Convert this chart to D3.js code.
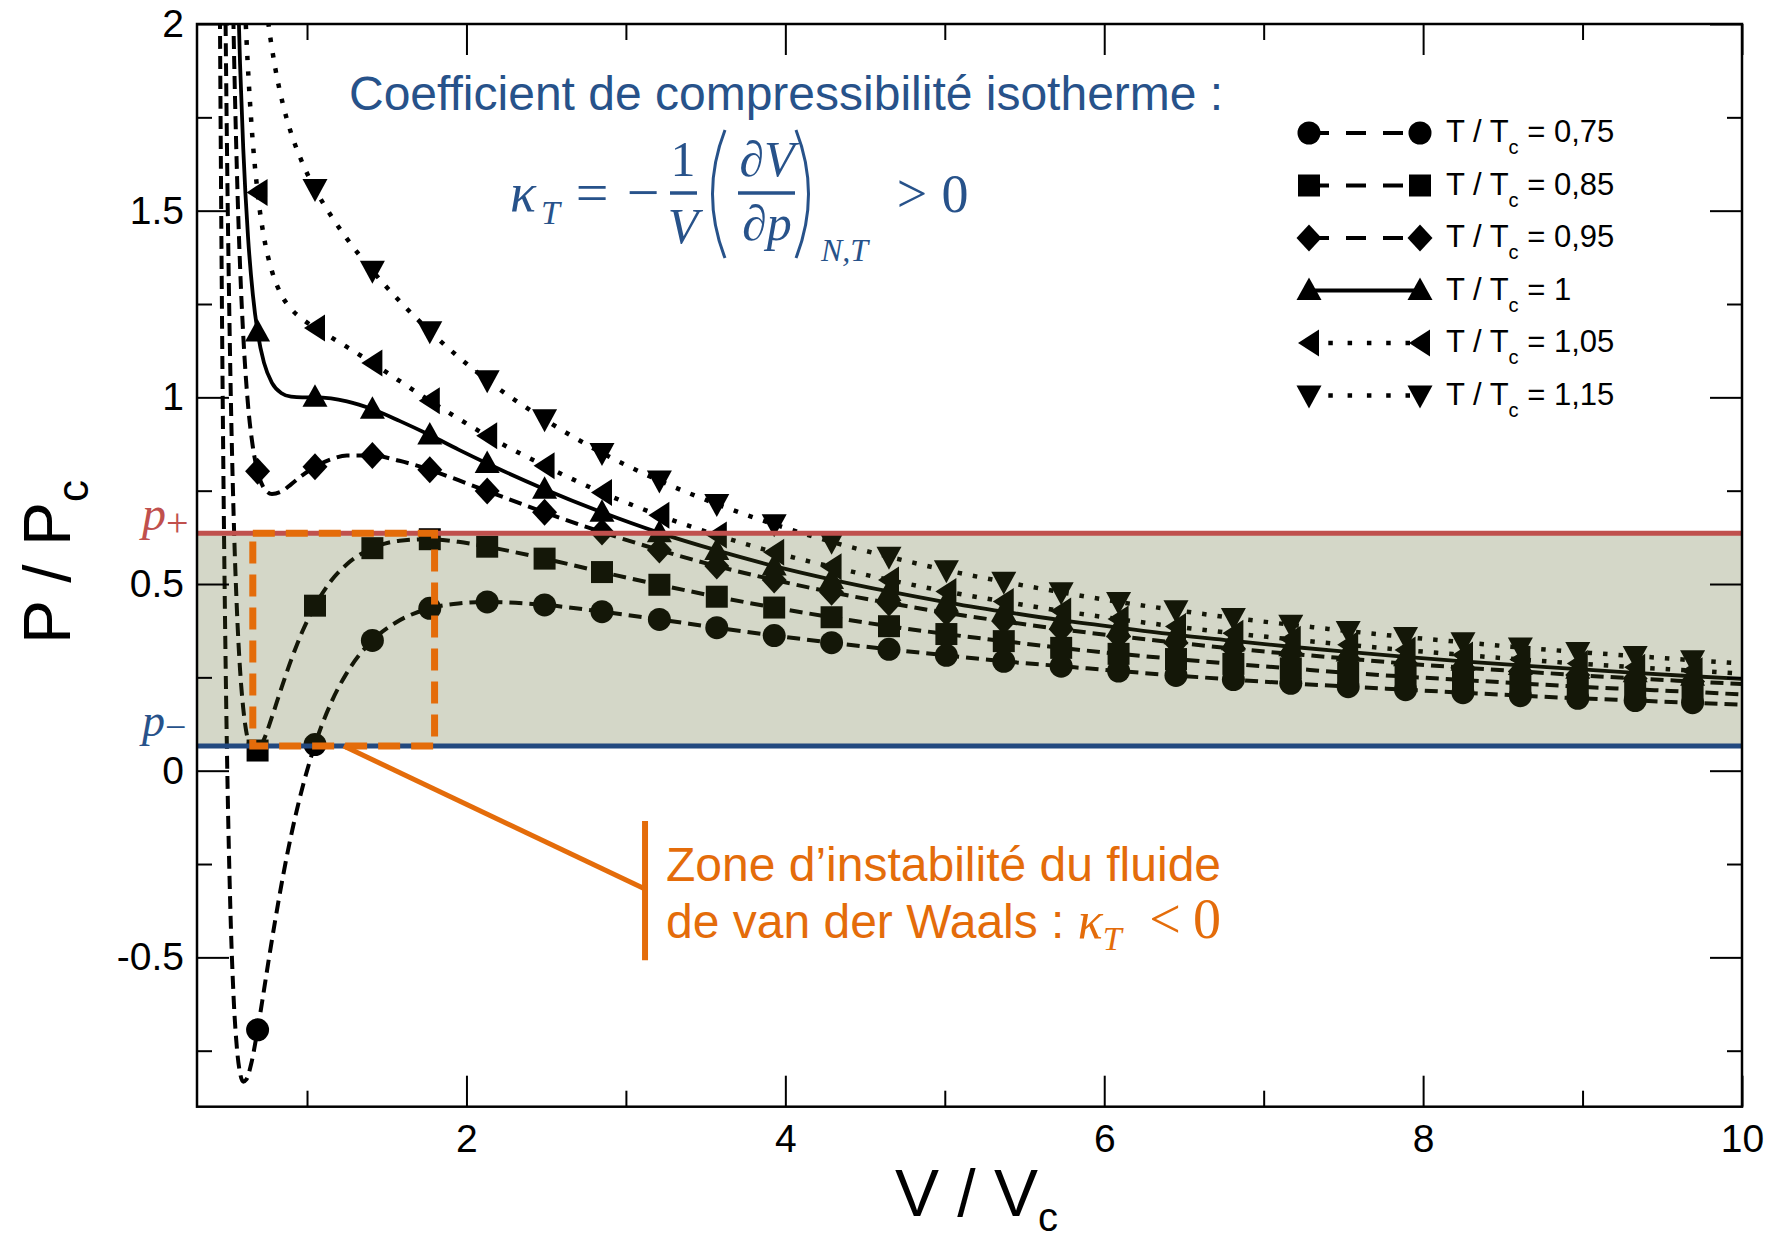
<!DOCTYPE html>
<html><head><meta charset="utf-8">
<script src="https://cdn.jsdelivr.net/npm/d3@7"></script>
<style>body{margin:0;background:#fff} svg{display:block}</style>
</head><body>
<svg id="chart" width="1776" height="1247"></svg>
<script>
// ---------------- DATA ----------------
const xDomain = [0.31, 10];
const yDomain = [-0.9, 2];
const xMajor = [2, 4, 6, 8, 10];
const xTickLabels = ["2", "4", "6", "8", "10"];
const xMinor = [1, 3, 5, 7, 9];
const yMajor = [-0.5, 0, 0.5, 1, 1.5, 2];
const yTickLabels = ["-0.5", "0", "0.5", "1", "1.5", "2"];
const yMinor = [-0.75, -0.25, 0.25, 0.75, 1.25, 1.75];

const seriesLabels = ["0,75", "0,85", "0,95", "1", "1,05", "1,15"];

// V/Vc positions of markers (shared by all isotherms)
const markerV = [0.69, 1.05, 1.41, 1.77, 2.13, 2.49, 2.85, 3.21, 3.57, 3.93, 4.29, 4.65, 5.01,
                 5.37, 5.73, 6.09, 6.45, 6.81, 7.17, 7.53, 7.89, 8.25, 8.61, 8.97, 9.33, 9.69];
// P/Pc at markers
const P_075 = [-0.694, 0.070, 0.349, 0.435, 0.452, 0.444, 0.426, 0.405, 0.383, 0.362, 0.343, 0.325, 0.309, 0.293, 0.280, 0.267, 0.255, 0.244, 0.234, 0.225, 0.217, 0.209, 0.201, 0.194, 0.188, 0.182];
const P_085 = [0.054, 0.442, 0.596, 0.620, 0.600, 0.568, 0.532, 0.498, 0.466, 0.437, 0.411, 0.387, 0.366, 0.347, 0.329, 0.313, 0.299, 0.286, 0.274, 0.262, 0.252, 0.243, 0.234, 0.225, 0.218, 0.211];
const P_095 = [0.802, 0.814, 0.844, 0.806, 0.749, 0.692, 0.639, 0.591, 0.548, 0.511, 0.478, 0.449, 0.423, 0.400, 0.379, 0.360, 0.343, 0.327, 0.313, 0.300, 0.287, 0.276, 0.266, 0.256, 0.247, 0.239];
const P_100 = [1.175, 1.000, 0.968, 0.899, 0.823, 0.754, 0.692, 0.637, 0.590, 0.548, 0.512, 0.480, 0.451, 0.426, 0.403, 0.383, 0.364, 0.348, 0.332, 0.318, 0.305, 0.293, 0.282, 0.272, 0.262, 0.253];
const P_105 = [1.549, 1.186, 1.092, 0.991, 0.897, 0.817, 0.745, 0.684, 0.631, 0.585, 0.546, 0.511, 0.480, 0.453, 0.428, 0.406, 0.386, 0.368, 0.352, 0.337, 0.323, 0.310, 0.298, 0.287, 0.277, 0.268];
const P_115 = [2.297, 1.558, 1.339, 1.177, 1.046, 0.941, 0.851, 0.777, 0.714, 0.660, 0.613, 0.573, 0.537, 0.506, 0.478, 0.452, 0.430, 0.409, 0.391, 0.374, 0.358, 0.344, 0.330, 0.318, 0.307, 0.296];

// extra line points (between / outside markers)
const lineV_075 = [0.44, 0.45, 0.46, 0.47, 0.48, 0.49, 0.50, 0.52, 0.54, 0.56, 0.58, 0.60, 0.62, 0.65, 0.72, 0.76, 0.80, 0.85, 0.90, 0.95, 1.15, 1.25, 1.55, 1.95, 10];
const lineP_075 = [3.254, 2.328, 1.611, 1.053, 0.615, 0.271, 0.000, -0.381, -0.611, -0.742, -0.810, -0.833, -0.827, -0.785, -0.615, -0.506, -0.402, -0.281, -0.174, -0.081, 0.181, 0.262, 0.395, 0.448, 0.177];
const lineV_085 = [0.46, 0.48, 0.49, 0.50, 0.52, 0.54, 0.56, 0.58, 0.60, 0.63, 0.66, 0.73, 0.78, 0.84, 0.90, 0.97, 1.15, 1.25, 1.58, 1.95, 10];
const lineP_085 = [3.717, 2.434, 1.973, 1.600, 1.048, 0.680, 0.434, 0.271, 0.167, 0.081, 0.052, 0.084, 0.144, 0.222, 0.296, 0.372, 0.508, 0.553, 0.616, 0.613, 0.204];
const lineV_095 = [0.50, 0.52, 0.54, 0.56, 0.58, 0.60, 0.63, 0.66, 0.73, 0.78, 0.84, 0.90, 0.97, 1.15, 1.25, 1.58, 1.95, 10];
const lineP_095 = [3.200, 2.476, 1.970, 1.610, 1.352, 1.167, 0.980, 0.868, 0.757, 0.741, 0.748, 0.767, 0.791, 0.834, 0.844, 0.830, 0.778, 0.232];
const lineV_100 = [0.52, 0.54, 0.56, 0.58, 0.60, 0.63, 0.66, 0.73, 0.78, 0.84, 0.90, 0.97, 1.15, 1.25, 1.58, 1.95, 10];
const lineP_100 = [3.191, 2.615, 2.199, 1.893, 1.667, 1.430, 1.276, 1.093, 1.039, 1.011, 1.002, 1.000, 0.997, 0.989, 0.937, 0.860, 0.246];
const lineV_105 = [0.56, 0.58, 0.60, 0.62, 0.65, 0.73, 0.78, 0.84, 0.90, 0.97, 1.15, 1.25, 1.58, 1.95, 10];
const lineP_105 = [2.787, 2.433, 2.167, 1.963, 1.741, 1.429, 1.338, 1.274, 1.237, 1.210, 1.161, 1.135, 1.044, 0.943, 0.260];
const lineV_115 = [0.66, 0.70, 0.73, 0.76, 0.80, 0.85, 0.90, 0.97, 1.15, 1.25, 1.58, 1.95, 10];
const lineP_115 = [2.501, 2.242, 2.101, 1.994, 1.884, 1.783, 1.708, 1.629, 1.487, 1.425, 1.258, 1.108, 0.287];

// instability zone
const pPlus = 0.636;
const pMinus = 0.066;
const zoneV = [0.66, 1.80];

// ---------------- STYLE ----------------
const SANS = "'Liberation Sans', Arial, Helvetica, sans-serif";
const SERIF = "'Liberation Serif', 'DejaVu Serif', serif";
const BLUE = "#27528a";
const RED = "#c0504d";
const ORANGE = "#e46c0a";

const styles = [
  {dash: "13,7", width: 4, sym: "circle", legDash: "20,17"},
  {dash: "13,7", width: 4, sym: "square", legDash: "20,17"},
  {dash: "13,7", width: 4, sym: "diamond", legDash: "20,17"},
  {dash: null, width: 3.8, sym: "up", legDash: null},
  {dash: "4.5,11", width: 4.5, sym: "left", legDash: "4.5,14.8"},
  {dash: "4.5,11", width: 4.5, sym: "down", legDash: "4.5,14.8"}
];
const lineVs = [lineV_075, lineV_085, lineV_095, lineV_100, lineV_105, lineV_115];
const linePs = [lineP_075, lineP_085, lineP_095, lineP_100, lineP_105, lineP_115];
const markPs = [P_075, P_085, P_095, P_100, P_105, P_115];

function markerPath(sym) {
  switch (sym) {
    case "circle": return "M11.5,0A11.5,11.5 0 1,1 -11.5,0A11.5,11.5 0 1,1 11.5,0Z";
    case "square": return "M-11,-11H11V11H-11Z";
    case "diamond": return "M0,-13.5L12.5,0L0,13.5L-12.5,0Z";
    case "up": return "M0,-13L12.5,9.5L-12.5,9.5Z";
    case "left": return "M-11,0L10,-13.5L10,13.5Z";
    case "down": return "M-12.5,-10L12.5,-10L0,13Z";
  }
}

// ---------------- CHART ----------------
const svg = d3.select("#chart");
svg.append("rect").attr("width", 1776).attr("height", 1247).attr("fill", "#fff");

const L = 197, R = 1742, T = 24, B = 1106.7;
const x = d3.scaleLinear().domain(xDomain).range([L, R]);
const y = d3.scaleLinear().domain(yDomain).range([B, T]);

svg.append("defs").append("clipPath").attr("id", "plotclip")
  .append("rect").attr("x", L).attr("y", T).attr("width", R - L).attr("height", B - T);

const plot = svg.append("g").attr("clip-path", "url(#plotclip)");
const line = d3.line().x(d => x(d[0])).y(d => y(d[1])).curve(d3.curveMonotoneX);

styles.forEach((st, i) => {
  const pts = lineVs[i].map((v, j) => [v, linePs[i][j]])
    .concat(markerV.map((v, j) => [v, markPs[i][j]]))
    .sort((a, b) => a[0] - b[0]);
  const p = plot.append("path").attr("d", line(pts)).attr("fill", "none")
    .attr("stroke", "#000").attr("stroke-width", st.width);
  if (st.dash) p.attr("stroke-dasharray", st.dash);
});
styles.forEach((st, i) => {
  plot.selectAll(null)
    .data(markerV.map((v, j) => [v, markPs[i][j]]).filter(d => d[1] <= yDomain[1]))
    .enter().append("path")
    .attr("d", markerPath(st.sym))
    .attr("transform", d => `translate(${x(d[0])},${y(d[1])})`)
    .attr("fill", "#000");
});

// instability band (translucent overlay)
plot.append("rect")
  .attr("x", L).attr("width", R - L)
  .attr("y", y(pPlus)).attr("height", y(pMinus) - y(pPlus))
  .attr("fill", "rgb(81,93,32)").attr("fill-opacity", 0.247);
plot.append("line").attr("x1", L).attr("x2", R).attr("y1", y(pPlus)).attr("y2", y(pPlus))
  .attr("stroke", RED).attr("stroke-width", 5);
plot.append("line").attr("x1", L).attr("x2", R).attr("y1", y(pMinus)).attr("y2", y(pMinus))
  .attr("stroke", "#22497f").attr("stroke-width", 5);

// orange dashed rectangle
svg.append("rect")
  .attr("x", x(zoneV[0])).attr("width", x(zoneV[1]) - x(zoneV[0]))
  .attr("y", y(pPlus)).attr("height", y(pMinus) - y(pPlus))
  .attr("fill", "none").attr("stroke", ORANGE).attr("stroke-width", 7)
  .attr("stroke-dasharray", "22,11");

// connector + annotation
svg.append("line").attr("x1", x(1.23)).attr("y1", y(pMinus))
  .attr("x2", x(3.12)).attr("y2", y(-0.317))
  .attr("stroke", ORANGE).attr("stroke-width", 5);
svg.append("line").attr("x1", x(3.12)).attr("x2", x(3.12))
  .attr("y1", y(-0.135)).attr("y2", y(-0.508))
  .attr("stroke", ORANGE).attr("stroke-width", 6);
svg.append("text").attr("x", 666).attr("y", 881)
  .attr("font-family", SANS).attr("font-size", 48).attr("fill", ORANGE)
  .text("Zone d’instabilité du fluide");
const l2 = svg.append("text").attr("x", 666).attr("y", 938)
  .attr("font-family", SANS).attr("font-size", 48).attr("fill", ORANGE);
l2.append("tspan").text("de van der Waals : ");
l2.append("tspan").attr("font-family", SERIF).attr("font-style", "italic").attr("font-size", 52).text("κ");
l2.append("tspan").attr("font-family", SERIF).attr("font-style", "italic").attr("font-size", 34).attr("dy", 12).text("T");
svg.append("text").attr("x", 1165).attr("y", 938).attr("text-anchor", "middle")
  .attr("font-family", SERIF).attr("font-size", 56).attr("fill", ORANGE).text("<");
svg.append("text").attr("x", 1207).attr("y", 938).attr("text-anchor", "middle")
  .attr("font-family", SERIF).attr("font-size", 56).attr("fill", ORANGE).text("0");

// p labels
const pp = svg.append("text").attr("x", 142).attr("y", y(pPlus) - 3)
  .attr("font-family", SERIF).attr("fill", RED);
pp.append("tspan").attr("font-style", "italic").attr("font-size", 48).text("p");
pp.append("tspan").attr("font-size", 40).attr("dy", 6).text("+");
const pm = svg.append("text").attr("x", 142).attr("y", y(pMinus) - 10)
  .attr("font-family", SERIF).attr("fill", BLUE);
pm.append("tspan").attr("font-style", "italic").attr("font-size", 46).text("p");
pm.append("tspan").attr("font-size", 38).attr("dy", 4).text("−");

// ---------------- AXES ----------------
function styleAxis(g) {
  g.select(".domain").remove();
  g.selectAll("line").attr("stroke", "#000").attr("stroke-width", 2);
  g.selectAll("text").attr("fill", "#000").attr("font-size", 39).attr("font-family", SANS);
  return g;
}
styleAxis(svg.append("g").attr("transform", `translate(0,${B})`)
  .call(d3.axisBottom(x).tickValues(xMajor).tickFormat((d, i) => xTickLabels[i])
    .tickSizeInner(-31).tickSizeOuter(0).tickPadding(18)));
styleAxis(svg.append("g").attr("transform", `translate(0,${B})`)
  .call(d3.axisBottom(x).tickValues(xMinor).tickFormat("").tickSizeInner(-16).tickSizeOuter(0)));
styleAxis(svg.append("g").attr("transform", `translate(0,${T})`)
  .call(d3.axisTop(x).tickValues(xMajor).tickFormat("").tickSizeInner(-31).tickSizeOuter(0)));
styleAxis(svg.append("g").attr("transform", `translate(0,${T})`)
  .call(d3.axisTop(x).tickValues(xMinor).tickFormat("").tickSizeInner(-16).tickSizeOuter(0)));
styleAxis(svg.append("g").attr("transform", `translate(${L},0)`)
  .call(d3.axisLeft(y).tickValues(yMajor).tickFormat((d, i) => yTickLabels[i])
    .tickSizeInner(-32).tickSizeOuter(0).tickPadding(13)));
styleAxis(svg.append("g").attr("transform", `translate(${L},0)`)
  .call(d3.axisLeft(y).tickValues(yMinor).tickFormat("").tickSizeInner(-15).tickSizeOuter(0)));
styleAxis(svg.append("g").attr("transform", `translate(${R},0)`)
  .call(d3.axisRight(y).tickValues(yMajor).tickFormat("").tickSizeInner(-32).tickSizeOuter(0)));
styleAxis(svg.append("g").attr("transform", `translate(${R},0)`)
  .call(d3.axisRight(y).tickValues(yMinor).tickFormat("").tickSizeInner(-15).tickSizeOuter(0)));
svg.append("rect").attr("x", L).attr("y", T).attr("width", R - L).attr("height", B - T)
  .attr("fill", "none").attr("stroke", "#000").attr("stroke-width", 2.5);

// axis titles
const xt = svg.append("text").attr("x", 895).attr("y", 1216)
  .attr("font-family", SANS).attr("font-size", 66).attr("fill", "#000");
xt.append("tspan").text("V / V");
xt.append("tspan").attr("font-size", 40).attr("dy", 15).text("c");
const yt = svg.append("text").attr("transform", "translate(70,562) rotate(-90)")
  .attr("text-anchor", "middle").attr("font-family", SANS).attr("font-size", 66).attr("fill", "#000");
yt.append("tspan").text("P / P");
yt.append("tspan").attr("font-size", 44).attr("dy", 18).text("c");

// ---------------- LEGEND ----------------
const legY = [133, 185.5, 238, 290.5, 343, 395.5];
styles.forEach((st, i) => {
  const gy = legY[i];
  const ln = svg.append("line").attr("x1", 1309).attr("x2", 1420).attr("y1", gy).attr("y2", gy)
    .attr("stroke", "#000").attr("stroke-width", st.width);
  if (st.legDash) ln.attr("stroke-dasharray", st.legDash);
  [1309, 1420].forEach(cx => svg.append("path").attr("d", markerPath(st.sym))
    .attr("transform", `translate(${cx},${gy})`).attr("fill", "#000"));
  const t = svg.append("text").attr("x", 1446).attr("y", gy + 9)
    .attr("font-family", SANS).attr("font-size", 31).attr("fill", "#000");
  t.append("tspan").text("T / T");
  t.append("tspan").attr("font-size", 20).attr("dy", 12).text("c");
  t.append("tspan").attr("dy", -12).text(" = " + seriesLabels[i]);
});

// ---------------- TITLE & FORMULA ----------------
svg.append("text").attr("x", 349).attr("y", 110)
  .attr("font-family", SANS).attr("font-size", 48).attr("fill", BLUE)
  .text("Coefficient de compressibilité isotherme :");

const F = svg.append("g").attr("fill", BLUE).attr("font-family", SERIF);
F.append("text").attr("x", 510).attr("y", 211).attr("font-size", 54).attr("font-style", "italic").text("κ");
F.append("text").attr("x", 541).attr("y", 224).attr("font-size", 34).attr("font-style", "italic").text("T");
F.append("text").attr("x", 592).attr("y", 212).attr("text-anchor", "middle").attr("font-size", 58).text("=");
F.append("text").attr("x", 643).attr("y", 212).attr("text-anchor", "middle").attr("font-size", 58).text("−");
F.append("text").attr("x", 683).attr("y", 176).attr("text-anchor", "middle").attr("font-size", 50).text("1");
F.append("line").attr("x1", 670).attr("x2", 697).attr("y1", 193).attr("y2", 193).attr("stroke", BLUE).attr("stroke-width", 3.5);
F.append("text").attr("x", 683).attr("y", 243).attr("text-anchor", "middle").attr("font-size", 50).attr("font-style", "italic").text("V");
F.append("path").attr("d", "M725,130 Q700,194 725,258").attr("fill", "none").attr("stroke", BLUE).attr("stroke-width", 3);
F.append("text").attr("x", 767).attr("y", 176).attr("text-anchor", "middle").attr("font-size", 50).attr("font-style", "italic").text("∂V");
F.append("line").attr("x1", 738).attr("x2", 795).attr("y1", 193).attr("y2", 193).attr("stroke", BLUE).attr("stroke-width", 3.5);
F.append("text").attr("x", 767).attr("y", 240).attr("text-anchor", "middle").attr("font-size", 50).attr("font-style", "italic").text("∂p");
F.append("path").attr("d", "M796,130 Q821,194 796,258").attr("fill", "none").attr("stroke", BLUE).attr("stroke-width", 3);
F.append("text").attr("x", 821).attr("y", 261).attr("font-size", 32).attr("font-style", "italic").text("N,T");
F.append("text").attr("x", 912).attr("y", 212).attr("text-anchor", "middle").attr("font-size", 54).text(">");
F.append("text").attr("x", 955).attr("y", 212).attr("text-anchor", "middle").attr("font-size", 54).text("0");
</script>
</body></html>
